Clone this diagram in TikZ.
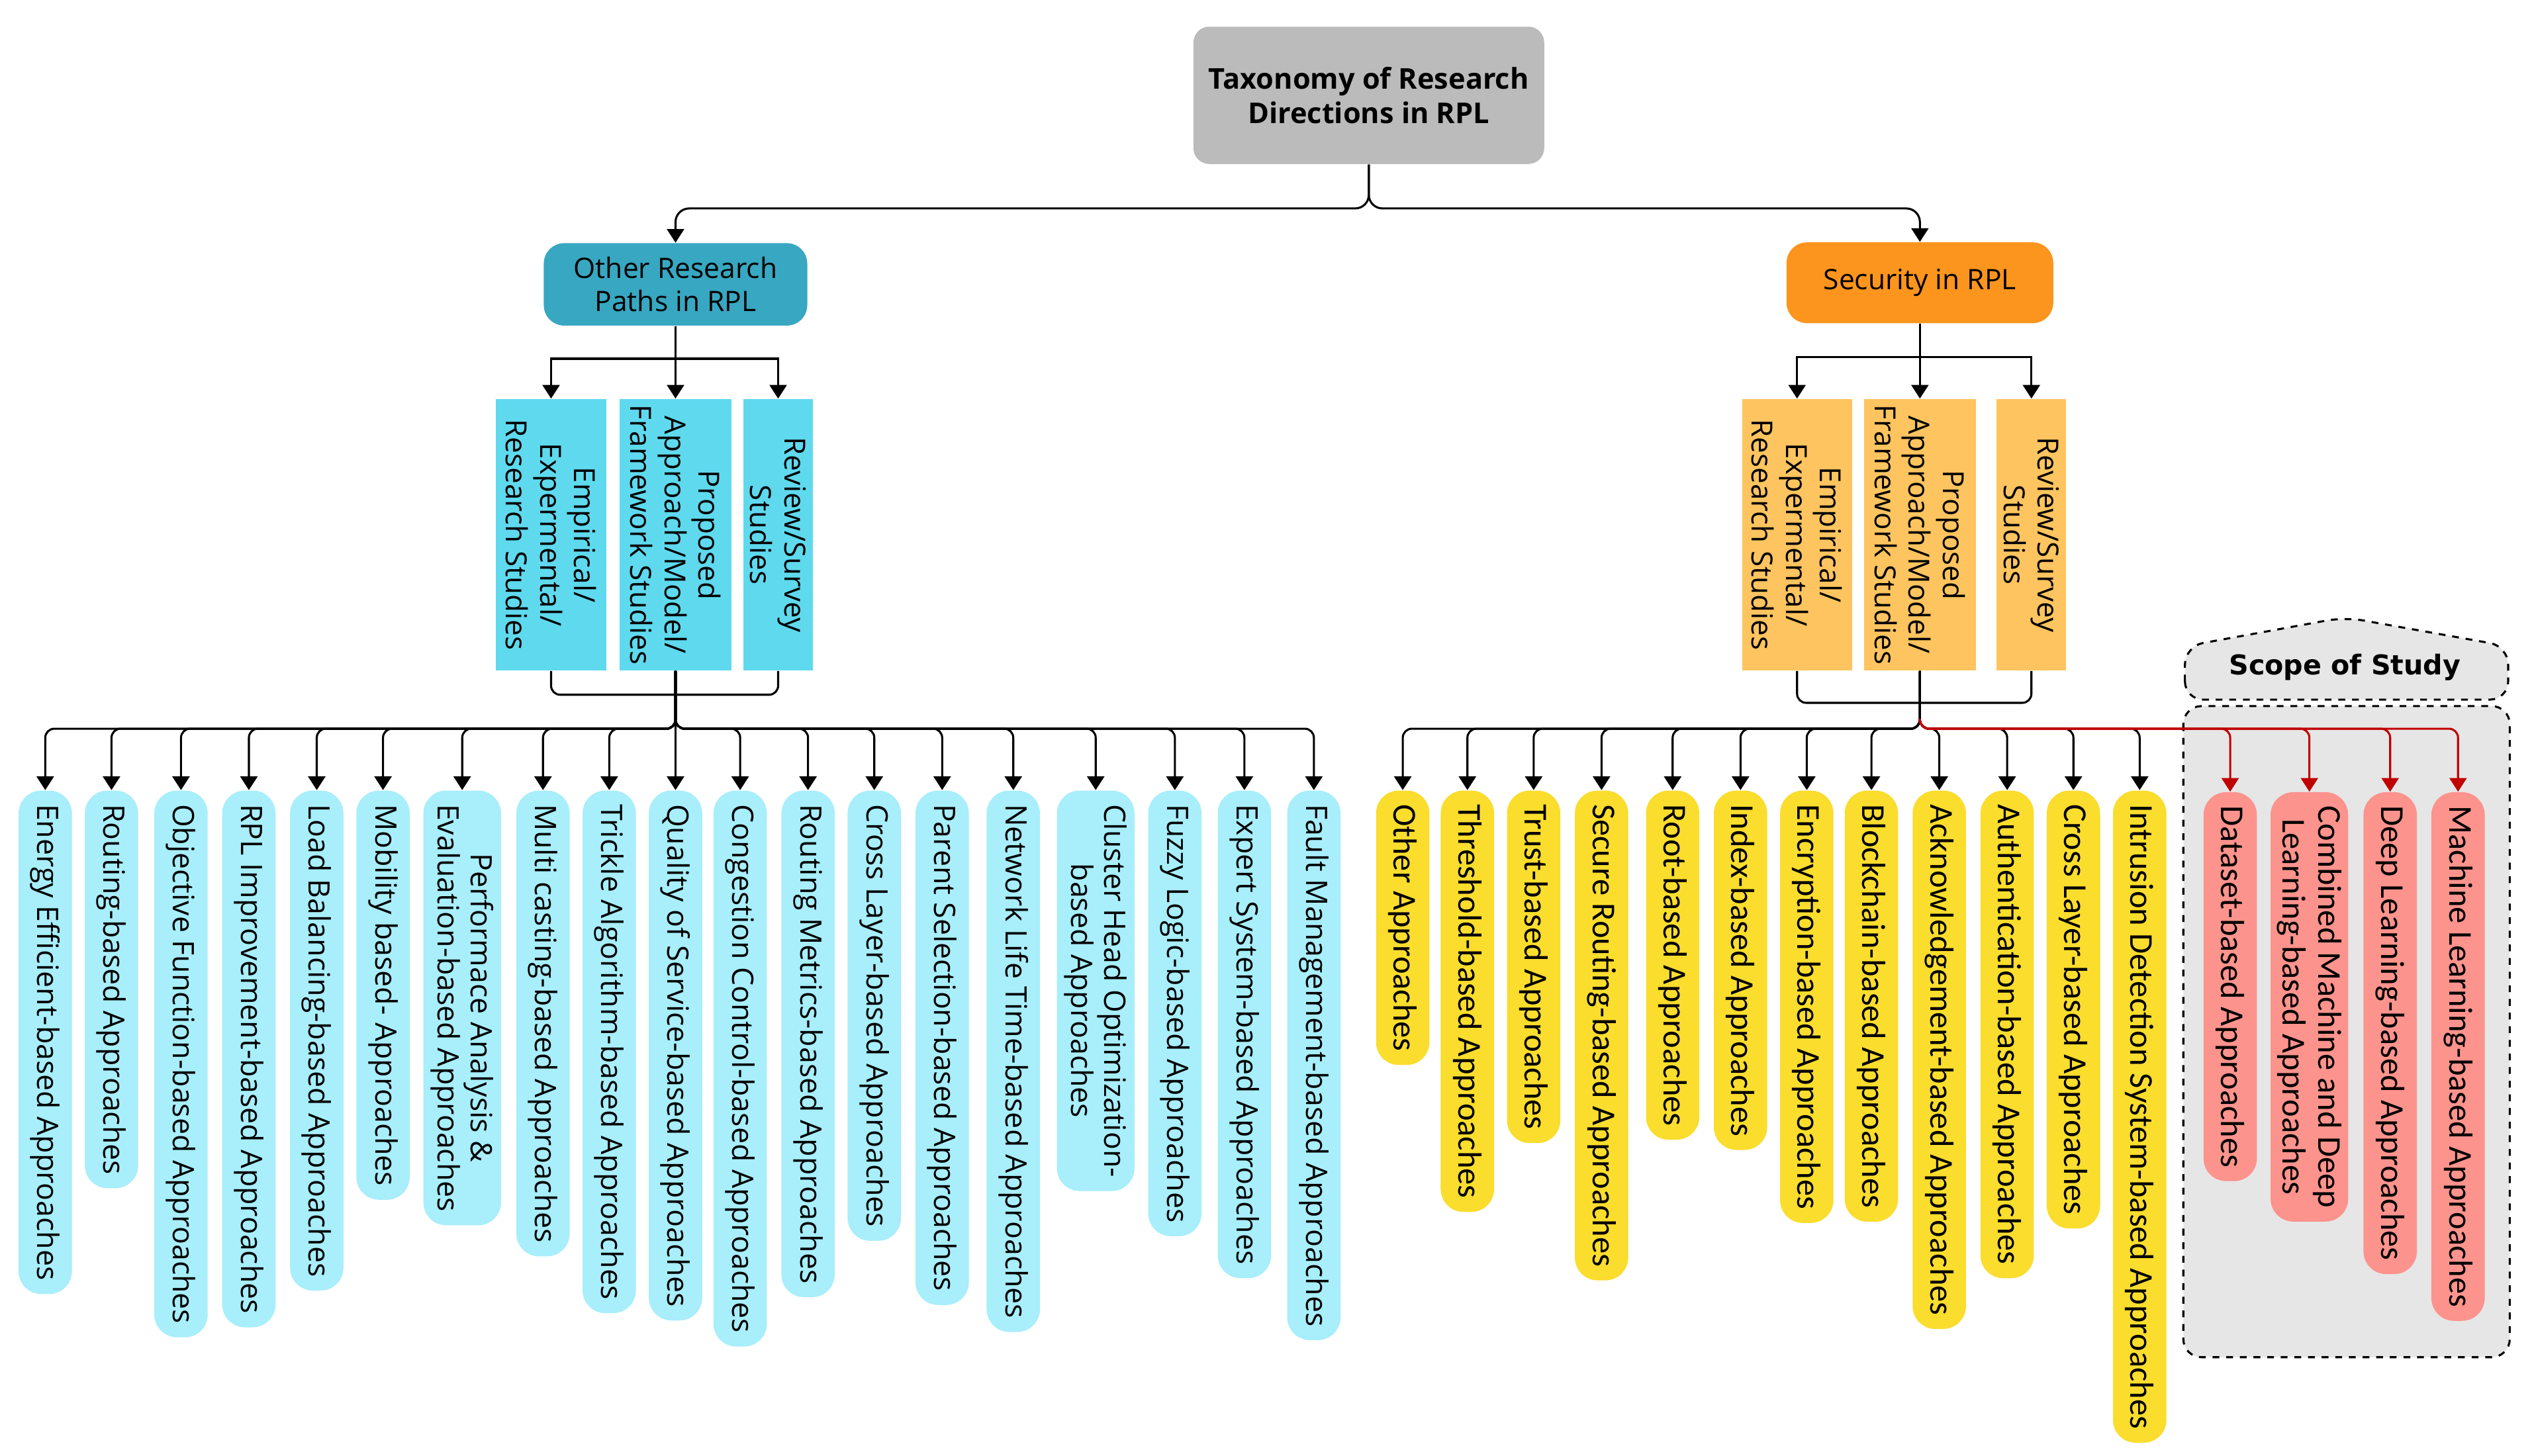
\documentclass[tikz,border=0pt]{standalone}
\usepackage{fontspec}
\setmainfont{Open Sans}
\newfontfamily\narrowfont{Carlito}
\newfontfamily\scopefont{DejaVu Sans}
\usetikzlibrary{arrows.meta}

\definecolor{rootgray}{HTML}{BBBBBB}
\definecolor{otherteal}{HTML}{38A7C1}
\definecolor{secorange}{HTML}{FB951D}
\definecolor{subcyan}{HTML}{5FD9EE}
\definecolor{subamber}{HTML}{FDC45F}
\definecolor{leafcyan}{HTML}{A8EEFB}
\definecolor{leafyellow}{HTML}{FADD2D}
\definecolor{leafred}{HTML}{FC938D}
\definecolor{scopegray}{HTML}{E6E6E6}
\definecolor{linkred}{HTML}{C00000}

\tikzset{
  conn/.style={line width=0.9pt, rounded corners=4pt, -{Triangle[length=6pt,width=7.5pt]}},
  bus/.style={line width=0.9pt, -{Triangle[length=6pt,width=7.5pt]}},
  link/.style={line width=0.9pt, rounded corners=4pt},
  mainbox/.style={align=center, inner sep=2pt, font=\fontsize{12.4}{14.5}\selectfont},
  subbox/.style={rotate=-90, align=center, inner sep=1pt, minimum width=4.2cm,
    font=\fontsize{12.8}{15}\selectfont},
  leaf/.style={rotate=-90, anchor=west, align=center, rounded corners=10pt,
    minimum height=0.825cm, inner xsep=6pt, inner ysep=2pt,
    font=\fontsize{13}{14.5}\selectfont},
  leafL/.style={leaf, fill=leafcyan},
  leafS/.style={leaf, fill=leafyellow, font=\narrowfont\fontsize{14.7}{16}\selectfont},
  leafM/.style={leaf, fill=leafred, font=\narrowfont\fontsize{14.7}{16}\selectfont},
  scopebox/.style={draw, dashed, line width=0.9pt, fill=scopegray, rounded corners=8pt}
}

\begin{document}
\begin{tikzpicture}[x=0.025cm, y=-0.025cm]
    \useasboundingbox (0,0) rectangle (1568,901);

    % Scope of study frame
    \draw[scopebox] (1351,437) rectangle (1553,840);
    \draw[scopebox] (1352,433) -- (1352,400) -- (1451,382) -- (1552,400) -- (1552,433) -- cycle;
    \node[font=\scopefont\bfseries\fontsize{12}{14}\selectfont] (scope) at (1451,413) {Scope of Study};

    % Top levels
    \node[mainbox, fill=rootgray, rounded corners=7pt, minimum width=5.425cm, minimum height=2.125cm,
        font=\bfseries\fontsize{12.6}{15}\selectfont] (root) at (847,59) {Taxonomy of Research\\Directions in RPL};
    \node[mainbox, fill=otherteal, rounded corners=9pt, minimum width=4.075cm, minimum height=1.275cm]
        (other) at (418,176) {Other Research\\Paths in RPL};
    \node[mainbox, fill=secorange, rounded corners=9pt, minimum width=4.125cm, minimum height=1.25cm]
        (security) at (1188,175) {Security in RPL};

    % Study types
    \node[subbox, fill=subcyan, minimum height=1.7cm] (empL) at (341,331) {Empirical/\\Expermental/\\Research Studies};
    \node[subbox, fill=subcyan, minimum height=1.725cm] (propL) at (418,331) {Proposed\\Approach/Model/\\Framework Studies};
    \node[subbox, fill=subcyan, minimum height=1.075cm] (revL) at (481.5,331) {Review/Survey\\Studies};
    \node[subbox, fill=subamber, minimum height=1.7cm] (empR) at (1112,331) {Empirical/\\Expermental/\\Research Studies};
    \node[subbox, fill=subamber, minimum height=1.725cm] (propR) at (1188,331) {Proposed\\Approach/Model/\\Framework Studies};
    \node[subbox, fill=subamber, minimum height=1.075cm] (revR) at (1257,331) {Review/Survey\\Studies};

    % Other research paths
    \node[leafL] (a1) at (28,489) {Energy Efficient-based Approaches};
    \node[leafL] (a2) at (69,489) {Routing-based Approaches};
    \node[leafL] (a3) at (112,489) {Objective Function-based Approaches};
    \node[leafL] (a4) at (154,489) {RPL Improvement-based Approaches};
    \node[leafL] (a5) at (196,489) {Load Balancing-based Approaches};
    \node[leafL] (a6) at (237,489) {Mobility based- Approaches};
    \node[leafL, minimum height=1.2cm] (a7) at (286,489) {Performace Analysis \&\\Evaluation-based Approaches};
    \node[leafL] (a8) at (336,489) {Multi casting-based Approaches};
    \node[leafL] (a9) at (377,489) {Trickle Algorithm-based Approaches};
    \node[leafL] (a10) at (418,489) {Quality of Service-based Approaches};
    \node[leafL] (a11) at (458,489) {Congestion Control-based Approaches};
    \node[leafL] (a12) at (500,489) {Routing Metrics-based Approaches};
    \node[leafL] (a13) at (541,489) {Cross Layer-based Approaches};
    \node[leafL] (a14) at (583,489) {Parent Selection-based Approaches};
    \node[leafL] (a15) at (627,489) {Network Life Time-based Approaches};
    \node[leafL, minimum height=1.2cm] (a16) at (678,489) {Cluster Head Optimization-\\based Approaches};
    \node[leafL] (a17) at (727,489) {Fuzzy Logic-based Approaches};
    \node[leafL] (a18) at (770,489) {Expert System-based Approaches};
    \node[leafL] (a19) at (813,489) {Fault Management-based Approaches};

    % Security approaches
    \node[leafS] (b1) at (868,489) {Other Approaches};
    \node[leafS] (b2) at (908,489) {Threshold-based Approaches};
    \node[leafS] (b3) at (949,489) {Trust-based Approaches};
    \node[leafS] (b4) at (991,489) {Secure Routing-based Approaches};
    \node[leafS] (b5) at (1035,489) {Root-based Approaches};
    \node[leafS] (b6) at (1077,489) {Index-based Approaches};
    \node[leafS] (b7) at (1118,489) {Encryption-based Approaches};
    \node[leafS] (b8) at (1158,489) {Blockchain-based Approaches};
    \node[leafS] (b9) at (1200,489) {Acknowledgement-based Approaches};
    \node[leafS] (b10) at (1242,489) {Authentication-based Approaches};
    \node[leafS] (b11) at (1283,489) {Cross Layer-based Approaches};
    \node[leafS] (b12) at (1324,489) {Intrusion Detection System-based Approaches};

    % Machine learning approaches
    \node[leafM] (c1) at (1380,490) {Dataset-based Approaches};
    \node[leafM, minimum height=1.2cm] (c2) at (1429,490) {Combined Machine and Deep\\Learning-based Approaches};
    \node[leafM] (c3) at (1479,490) {Deep Learning-based Approaches};
    \node[leafM] (c4) at (1521,490) {Machine Learning-based Approaches};

    % Root connectors
    \coordinate (rootbus) at (847,129);
    \draw[conn, rounded corners=6pt] (root.south) -- (rootbus) -| (other.north);
    \draw[conn, rounded corners=6pt] (root.south) -- (rootbus) -| (security.north);

    % Study type connectors
    \coordinate (otherbus) at (418,222);
    \coordinate (secbus) at (1188,221);
    \draw[bus] (other.south) -- (otherbus) -| (empL.west);
    \draw[bus] (other.south) -- (propL.west);
    \draw[bus] (otherbus) -| (revL.west);
    \draw[bus] (security.south) -- (secbus) -| (empR.west);
    \draw[bus] (security.south) -- (propR.west);
    \draw[bus] (secbus) -| (revR.west);

    % Brackets
    \coordinate (brL) at (418,430);
    \coordinate (brR) at (1188,435);
    \draw[link] (empL.east) |- (brL) -| (revL.east);
    \draw[link] (empR.east) |- (brR) -| (revR.east);

    % Left leaf connectors
    \coordinate (busL) at (418,451);
    \draw[conn] (propL.east) -- (busL) -| (a1.west);
    \draw[conn] (propL.east) -- (busL) -| (a2.west);
    \draw[conn] (propL.east) -- (busL) -| (a3.west);
    \draw[conn] (propL.east) -- (busL) -| (a4.west);
    \draw[conn] (propL.east) -- (busL) -| (a5.west);
    \draw[conn] (propL.east) -- (busL) -| (a6.west);
    \draw[conn] (propL.east) -- (busL) -| (a7.west);
    \draw[conn] (propL.east) -- (busL) -| (a8.west);
    \draw[conn] (propL.east) -- (busL) -| (a9.west);
    \draw[conn] (propL.east) -- (a10.west);
    \draw[conn] (propL.east) -- (busL) -| (a11.west);
    \draw[conn] (propL.east) -- (busL) -| (a12.west);
    \draw[conn] (propL.east) -- (busL) -| (a13.west);
    \draw[conn] (propL.east) -- (busL) -| (a14.west);
    \draw[conn] (propL.east) -- (busL) -| (a15.west);
    \draw[conn] (propL.east) -- (busL) -| (a16.west);
    \draw[conn] (propL.east) -- (busL) -| (a17.west);
    \draw[conn] (propL.east) -- (busL) -| (a18.west);
    \draw[conn] (propL.east) -- (busL) -| (a19.west);

    % Right leaf connectors
    \coordinate (busR) at (1188,451);
    \draw[conn] (propR.east) -- (busR) -| (b1.west);
    \draw[conn] (propR.east) -- (busR) -| (b2.west);
    \draw[conn] (propR.east) -- (busR) -| (b3.west);
    \draw[conn] (propR.east) -- (busR) -| (b4.west);
    \draw[conn] (propR.east) -- (busR) -| (b5.west);
    \draw[conn] (propR.east) -- (busR) -| (b6.west);
    \draw[conn] (propR.east) -- (busR) -| (b7.west);
    \draw[conn] (propR.east) -- (busR) -| (b8.west);
    \draw[conn] (propR.east) -- (busR) -| (b9.west);
    \draw[conn] (propR.east) -- (busR) -| (b10.west);
    \draw[conn] (propR.east) -- (busR) -| (b11.west);
    \draw[conn] (propR.east) -- (busR) -| (b12.west);

    % Scope connectors
    \coordinate (redstart) at (1188,445);
    \draw[conn, linkred] (redstart) -- (busR) -| (c1.west);
    \draw[conn, linkred] (redstart) -- (busR) -| (c2.west);
    \draw[conn, linkred] (redstart) -- (busR) -| (c3.west);
    \draw[conn, linkred] (redstart) -- (busR) -| (c4.west);
\end{tikzpicture}
\end{document}
